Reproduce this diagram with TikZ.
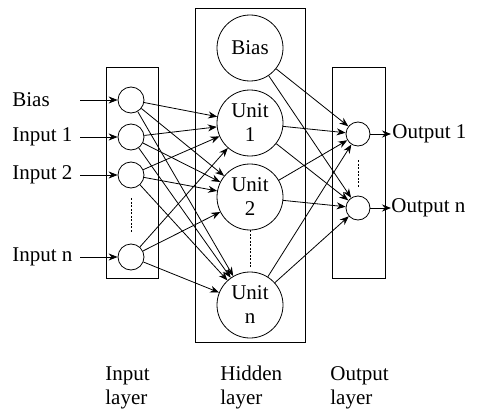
\documentclass[tikz,border=0pt]{standalone}
\usepackage{fontspec}
\setmainfont{Liberation Serif}
\usetikzlibrary{arrows.meta, positioning}

\begin{document}
\begin{tikzpicture}[x=1pt, y=-1pt, line width=0.8pt, font=\fontsize{21}{24}\selectfont,
  neuron/.style={circle, draw, minimum size=26pt, inner sep=0pt},
  unit/.style={circle, draw, minimum size=66pt, inner sep=0pt, align=center},
  layer/.style={draw, line width=1pt},
  link/.style={-{Stealth[length=9pt, width=7pt]}},
  dots/.style={dash pattern=on 2pt off 1.5pt},
  lbl/.style={inner sep=0pt, align=left}]
  \useasboundingbox (0,0) rectangle (482,412);

  % layer frames
  \draw[layer] (106,68) rectangle (158,278);
  \draw[layer] (195,9) rectangle (305,342);
  \draw[layer] (332,68) rectangle (385,278);

  % input layer
  \node[neuron] (i0) at (131,100) {};
  \node[neuron] (i1) at (131,137) {};
  \node[neuron] (i2) at (131,175) {};
  \node[neuron] (in) at (131,257) {};
  \draw[dots, shorten <=10pt, shorten >=11pt] (i2) -- (in);

  \node[lbl, anchor=west] (t0) at (12,100) {Bias};
  \node[lbl, anchor=west] (t1) at (12,137) {Input 1};
  \node[lbl, anchor=west] (t2) at (12,175) {Input 2};
  \node[lbl, anchor=west] (tn) at (12,257) {Input n};
  \foreach \n in {0,1,2,n} {
    \coordinate (s\n) at (80,0 |- i\n);
    \draw[link] (s\n) -- (i\n);
  }

  % hidden layer
  \node[unit] (hb) at (250,48) {Bias};
  \node[unit] (u1) at (250,123) {Unit\\1};
  \node[unit] (u2) at (250,197) {Unit\\2};
  \node[unit] (un) at (250,305) {Unit\\n};
  \draw[dots, shorten >=5pt] (u2) -- (un);

  % output layer
  \node[neuron, minimum size=24pt] (o1) at (358,134) {};
  \node[neuron, minimum size=24pt] (on) at (358,208) {};
  \draw[dots, shorten <=14pt, shorten >=9pt] (o1) -- (on);

  \coordinate[right=33pt of o1.center] (e1);
  \coordinate[right=33pt of on.center] (en);
  \draw[link] (o1) -- (e1);
  \draw[link] (on) -- (en);
  \node[lbl, anchor=west] (r1) at ([xshift=1pt]e1) {Output 1};
  \node[lbl, anchor=west] (rn) at (en) {Output n};

  % connections
  \foreach \s in {i0,i1,i2,in}
    \foreach \t in {u1,u2,un}
      \draw[link] (\s) -- (\t);
  \foreach \s in {hb,u1,u2,un}
    \foreach \t in {o1,on}
      \draw[link] (\s) -- (\t);

  % captions
  \node[lbl, anchor=north west] (ci) at (105,366) {Input\\layer};
  \node[lbl, anchor=north west] (ch) at (220,366) {Hidden\\layer};
  \node[lbl, anchor=north west] (co) at (330,366) {Output\\layer};
\end{tikzpicture}
\end{document}
